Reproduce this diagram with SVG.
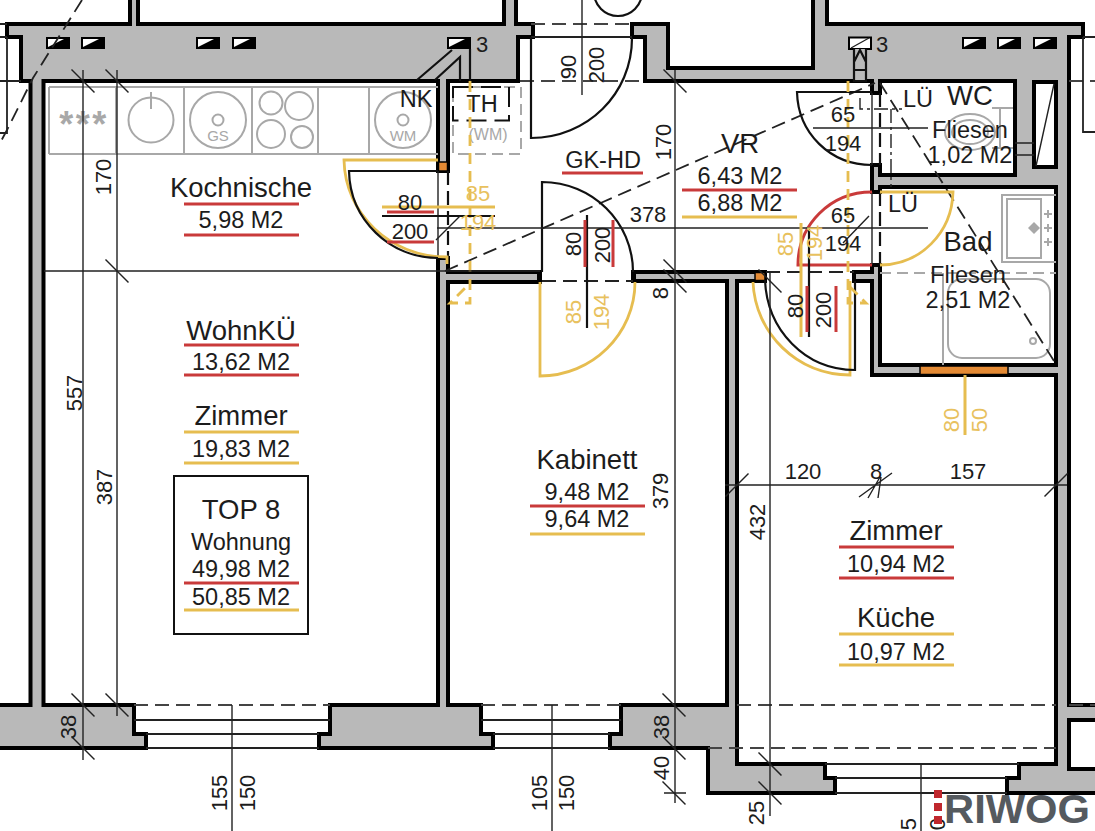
<svg xmlns="http://www.w3.org/2000/svg" width="1095" height="831" viewBox="0 0 1095 831">
<style>
text{font-family:"Liberation Sans",Arial,sans-serif;font-size:22px;text-anchor:middle;fill:#1c1c1c}
#labels text{font-size:23.500px}
#labels text.lg{font-size:27.500px}
.y{fill:#e8c15e}
#fx-text text,.g{fill:#a8a8a8;font-size:15px}
.wall{fill:#b9b9b9;stroke:#000;stroke-width:4;stroke-linejoin:miter}
.or{fill:#e48a34;stroke:#000;stroke-width:1.500}
.thin{fill:none;stroke:#222;stroke-width:1.400}
.win{fill:none;stroke:#222;stroke-width:1.800}
.dash{fill:none;stroke:#222;stroke-width:1.800;stroke-dasharray:14 7}
.dg{fill:none;stroke:#444;stroke-width:1.800;stroke-dasharray:14 7}
.door{fill:none;stroke:#111;stroke-width:2.200}
.ydoor{fill:none;stroke:#e6bd50;stroke-width:2.800}
.yd{fill:none;stroke:#e6bd50;stroke-width:2.800;stroke-dasharray:11 7}
.red{fill:none;stroke:#c93a3a;stroke-width:3}
.yl{fill:none;stroke:#e6bd50;stroke-width:3}
.fx{fill:none;stroke:#a8a8a8;stroke-width:2}
.fxd{fill:none;stroke:#a8a8a8;stroke-width:2;stroke-dasharray:11 6}
</style>
<defs>
<path id="t" d="M-11.500-11.500L11.500 11.500" fill="none" stroke="#222" stroke-width="1.500"/>
<path id="s" d="M-11.500 11.500L11.500-11.500" fill="none" stroke="#222" stroke-width="1.500"/>
<g id="h"><rect x="0" y="0" width="24" height="12" fill="#000"/><path d="M2 10V2H18L2 10Z" fill="#fff"/></g>
</defs>
<rect width="1095" height="831" fill="#fff"/>

<g id="walls">
<path class="wall" d="M130-5V24H7V37H21V81H30.500V705H-5V748H146V734H134V705H43.500V81H438V171H448V81H518V37H533V24H516V-5H504V24H138V-5Z"/>
<path class="wall" d="M438 258V705H330V734H319V748H493V734H481V705H448V282H540V272H448V258Z"/>
<path class="wall" d="M633 272H765V281H737V764H825V778H835V793H708V748H610V734H621V705H727V281H633Z"/>
<path class="wall" d="M632 24H668V68H813V-5H827V24H1083V37H1069V705H1100V720H1069V769H1100V793H1007V778H1019V764H1056V375H872V281H854V272H872V265H880V365H1056V187H880V192H872V165H880V175H1015V81H880V93H872V81H645V37H632Z"/>
<rect x="1034" y="82" width="22" height="85" fill="#fff" stroke="#000" stroke-width="4"/>
<path class="thin" d="M1036 166L1054 84M1015 143H1034M1015 155H1034"/>
<rect class="or" x="438.500" y="162" width="9" height="9"/>
<rect class="or" x="755" y="272.500" width="10" height="8"/>
<rect class="or" x="920" y="366" width="88" height="8.500"/>
<rect x="537" y="271" width="5" height="12" fill="#000"/>
<rect x="631" y="271" width="5" height="12" fill="#000"/>
</g>

<g id="wall-holes">
<use href="#h" x="46" y="37"/><use href="#h" x="81" y="37"/><use href="#h" x="196" y="37"/><use href="#h" x="232" y="37"/><use href="#h" x="447" y="37"/>
<rect x="849" y="37.500" width="22" height="11.500" fill="#fff" stroke="#000" stroke-width="2"/><path class="thin" d="M851 48L869 38"/>
<use href="#h" x="962" y="37"/><use href="#h" x="997" y="37"/><use href="#h" x="1033" y="37"/>
<path class="door" d="M417 80L452 50M435 80L460 57V81M470 49V81"/>
<path class="door" d="M854 49V81H866V49M854 62L860 50L866 62M854 70H866" stroke-width="1.500" style="fill:#b9b9b9"/>
<text x="482" y="52">3</text><text x="882" y="52">3</text>
</g>

<g id="kitchen-fixtures">
<path class="fx" d="M49 87H438M49 154H438M49 87V154M116 87V154M184 87V154M252 87V154M318 87V154M369 87V154"/>
<text x="84" y="137" style="fill:#a8a8a8;font-size:36px;font-weight:bold;letter-spacing:2.500px">***</text>
<circle class="fx" cx="151" cy="120" r="22.500"/><path class="fx" d="M151 92V109"/>
<circle class="fx" cx="218" cy="120" r="28"/><circle class="fx" cx="218" cy="120" r="5.500"/>
<text class="g" x="218" y="141">GS</text>
<circle class="fx" cx="271" cy="103" r="11.500"/><circle class="fx" cx="299" cy="106" r="14"/><circle class="fx" cx="271" cy="134" r="14"/><circle class="fx" cx="302" cy="137" r="11"/>
<circle class="fx" cx="403" cy="120" r="28"/><circle class="fx" cx="403" cy="120" r="5.500"/>
<text class="g" x="403" y="141">WM</text>
<rect class="fxd" x="453" y="87" width="68" height="67"/>
<text class="g" x="488" y="140" style="font-size:16px">(WM)</text>
<rect x="453" y="87" width="56" height="33.500" fill="none" stroke="#111" stroke-width="2" stroke-dasharray="20 8"/>
</g>

<g id="bath-fixtures">
<path class="fx" d="M1056 195H1002V262H1056"/><rect class="fx" x="1007" y="199" width="34" height="59"/>
<path d="M1028 228L1034 222L1040 228L1034 234Z" fill="#a8a8a8"/>
<path class="fx" d="M1044 214H1052M1048 210V218M1044 228H1052M1048 224V232M1044 242H1052M1048 238V246"/>
<path class="fxd" d="M880 273H1056" stroke-dasharray="22 9"/>
<path class="fx" d="M943 273V365"/>
<rect class="fx" x="948" y="279" width="102" height="79" rx="14"/>
<circle class="fx" cx="1033" cy="341" r="3"/>
<ellipse class="fx" cx="970" cy="132" rx="25" ry="18"/><ellipse class="fx" cx="970" cy="132" rx="18" ry="12"/>
<path class="fx" d="M992 108H1013M1000 108V148M992 148H1013"/>
</g>

<g id="construction">
<path class="win" d="M134 720H330M146 734H319M146 748H319M481 720H621M493 734H610M493 748H610M825 764H1019M835 778H1007M835 793H1007"/>
<path class="dg" d="M134 705H330M481 705H621M737 705H1056M708 748H1056M1069 705H1095"/>
<path class="dg" d="M531 24H632M520 81H645M1069 81H1095"/>
<path class="win" d="M531 37H632M0 24H7M0 37H7M0 81H21M7 37V133H0M1083 37H1095M1083 37V132H1095"/>
<path class="dash" d="M82 0L33 78L7 130L0 143"/>
<path class="dash" d="M445 271L875 83M1054 361L880 83"/>
<path class="dash" d="M542 281H633M766 272H854" stroke-dasharray="11 6"/>
<path class="door" d="M448 171V258M880 93V165M880 192V265" stroke-width="1.800" stroke-dasharray="14 6"/>
<path class="thin" d="M438 171V258M872 93V165M872 192V265"/>
<path class="thin" d="M860 98V109H902M891 109V187" stroke-dasharray="14 4 3 4"/>
<circle cx="618" cy="-8" r="24" class="door"/>
</g>

<g id="doors">
<path class="ydoor" d="M438 160H344C345 214 390 257 447 257V264"/>
<path class="door" d="M438 171H349C350 220 390 258 438 258"/>
<path class="door" d="M542 272V182C592 182 633 222 633 272"/>
<path class="ydoor" d="M540 282V376C592 376 635 334 635 282"/>
<path class="door" d="M531 37V138C587 138 632 94 632 38"/>
<path class="door" d="M872 92H797C798 133 830 165 872 165"/>
<path class="ydoor" d="M880 192H953C952 233 920 265 880 265"/>
<path class="red" d="M872 192C830 192 798 225 798 265H872"/>
<path class="ydoor" d="M753 282C755 333 797 375 850 375V281"/>
<path class="door" d="M765 280C767 330 805 370 855 370V281"/>
<path class="yd" d="M470 81V303H450L470 283"/>
<path class="yd" d="M848 81V303H866L850 287"/>
</g>

<g id="dimensions">
<path class="thin" d="M83 70V760M117 70V716M44 271H540M675 70V803M664 793H686M770 272V816M725 485H1067M848 485H903M437 228H928M813 128H928M582 0V95M232 705V831M552 705V831M921 764V831"/>
<path class="door" d="M382 216H495M587 215V328M809 228V337"/>
<path class="thin" d="M436 240L460 216M843 243L869 216M859 497L892 473M868 498L880 477M878 498L881 477"/>
<path class="yl" d="M382 207H495M801 223V337M965 375V435"/>
<path class="red" d="M387 212H434M387 242H434M585 220V267M613 220V267M807 286V332M836 286V332"/>
<use href="#t" x="83" y="81"/><use href="#t" x="117" y="81"/><use href="#t" x="117" y="271"/><use href="#t" x="83" y="705"/><use href="#t" x="117" y="705"/><use href="#t" x="83" y="748"/>
<use href="#t" x="675" y="81"/><use href="#t" x="675" y="271"/><use href="#t" x="675" y="281"/><use href="#t" x="674" y="705"/><use href="#t" x="674" y="748"/><use href="#t" x="674" y="793"/>
<use href="#t" x="770" y="281"/><use href="#t" x="770" y="764"/><use href="#t" x="770" y="793"/>
<use href="#s" x="737" y="485"/><use href="#s" x="1056" y="485"/>
<g>
<text transform="rotate(-90 111 177)" x="111" y="177">170</text>
<text transform="rotate(-90 82 393)" x="82" y="393">557</text>
<text transform="rotate(-90 112 487)" x="112" y="487">387</text>
<text transform="rotate(-90 76 727)" x="76" y="727">38</text>
<text transform="rotate(-90 227 793)" x="227" y="793">155</text>
<text transform="rotate(-90 255 793)" x="255" y="793">150</text>
<text transform="rotate(-90 547 793)" x="547" y="793">105</text>
<text transform="rotate(-90 574 793)" x="574" y="793">150</text>
<text transform="rotate(-90 669 727)" x="669" y="727">38</text>
<text transform="rotate(-90 669 768)" x="669" y="768">40</text>
<text transform="rotate(-90 764 813)" x="764" y="813">25</text>
<text transform="rotate(-90 916 824)" x="916" y="824">5</text>
<text transform="rotate(-90 945 824)" x="945" y="824">0</text>
<text transform="rotate(-90 671 142)" x="671" y="142">170</text>
<text transform="rotate(-90 668 293)" x="668" y="293">8</text>
<text transform="rotate(-90 668 491)" x="668" y="491">379</text>
<text transform="rotate(-90 765 522)" x="765" y="522">432</text>
<text transform="rotate(-90 576 67)" x="576" y="67">90</text>
<text transform="rotate(-90 604 65)" x="604" y="65">200</text>
<text transform="rotate(-90 581 244)" x="581" y="244">80</text>
<text transform="rotate(-90 610 245)" x="610" y="245">200</text>
<text class="y" transform="rotate(-90 581 312)" x="581" y="312">85</text>
<text class="y" transform="rotate(-90 609 312)" x="609" y="312">194</text>
<text transform="rotate(-90 803 306)" x="803" y="306">80</text>
<text transform="rotate(-90 831 310)" x="831" y="310">200</text>
<text class="y" transform="rotate(-90 793 244)" x="793" y="244">85</text>
<text class="y" transform="rotate(-90 822 243)" x="822" y="243">194</text>
<text class="y" transform="rotate(-90 959 420)" x="959" y="420">80</text>
<text class="y" transform="rotate(-90 987 420)" x="987" y="420">50</text>
</g>
<text x="410" y="210">80</text><text x="410" y="239">200</text>
<text class="y" x="478" y="201">85</text><text class="y" x="478" y="230">194</text>
<text x="648" y="222">378</text>
<text x="843" y="122">65</text><text x="843" y="151">194</text>
<text x="843" y="223">65</text><text x="843" y="251">194</text>
<text x="803" y="479">120</text><text x="876" y="479">8</text><text x="968" y="479">157</text>
</g>

<g id="labels">
<text class="lg" x="241" y="197">Kochnische</text><path class="red" d="M184 204H299M184 235H299"/><text x="241" y="228">5,98 M2</text>
<text class="lg" x="241" y="340">WohnKÜ</text><path class="red" d="M184 345H299M184 375H299"/><text x="241" y="370">13,62 M2</text>
<text class="lg" x="241" y="425">Zimmer</text><path class="yl" d="M184 432H299M184 463H299"/><text x="241" y="457">19,83 M2</text>
<rect x="174" y="476" width="134" height="158" fill="none" stroke="#111" stroke-width="2"/>
<text class="lg" x="241" y="519">TOP 8</text><text x="241" y="550">Wohnung</text><text x="241" y="577">49,98 M2</text><path class="red" d="M184 583H299"/><text x="241" y="605">50,85 M2</text><path class="yl" d="M184 610H299"/>
<text class="lg" x="587" y="469">Kabinett</text><text x="587" y="500">9,48 M2</text><path class="red" d="M530 506H645"/><text x="587" y="527">9,64 M2</text><path class="yl" d="M530 534H645"/>
<text class="lg" x="896" y="540">Zimmer</text><path class="red" d="M839 547H954M839 578H954"/><text x="896" y="572">10,94 M2</text>
<text class="lg" x="896" y="627">Küche</text><path class="yl" d="M839 634H954M839 665H954"/><text x="896" y="660">10,97 M2</text>
<text class="lg" x="740" y="153">VR</text><text x="740" y="184">6,43 M2</text><path class="red" d="M682 190H797"/><text x="740" y="211">6,88 M2</text><path class="yl" d="M682 217H797"/>
<text x="603" y="168">GK-HD</text><path class="red" d="M562 173H643"/>
<text x="416" y="107">NK</text><text x="482" y="112">TH</text>
<text x="918" y="107">LÜ</text><text class="lg" x="970" y="105">WC</text><text x="970" y="138">Fliesen</text><text x="970" y="163">1,02 M2</text>
<text x="903" y="212">LÜ</text><text class="lg" x="968" y="251">Bad</text><text x="968" y="283">Fliesen</text><text x="968" y="308">2,51 M2</text>
</g>

<g id="logo">
<rect x="934" y="790" width="8" height="8" fill="#c0272d"/><rect x="934" y="803" width="8" height="8" fill="#c0272d"/><rect x="934" y="816" width="8" height="8" fill="#c0272d"/>
<text x="1017" y="823" textLength="146" lengthAdjust="spacingAndGlyphs" style="font-size:41px;font-weight:bold;fill:#555a5f">RIWOG</text>
</g>
</svg>
